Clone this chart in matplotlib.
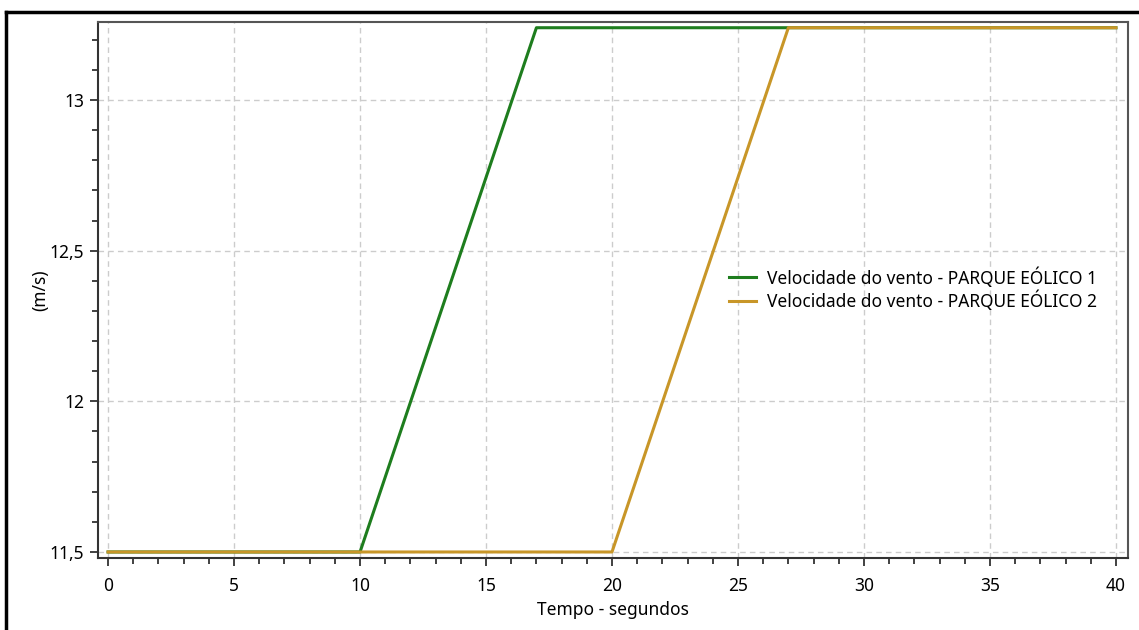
import matplotlib.pyplot as plt
from matplotlib.ticker import MultipleLocator, FuncFormatter
from matplotlib.lines import Line2D

plt.rcParams['font.family'] = ['Noto Sans', 'DejaVu Sans']

# series data (time in seconds, wind speed in m/s)
t1 = [0, 10, 17, 40]
v1 = [11.5, 11.5, 13.24, 13.24]
t2 = [0, 20, 27, 40]
v2 = [11.5, 11.5, 13.24, 13.24]
labels = ['Velocidade do vento - PARQUE EÓLICO 1',
          'Velocidade do vento - PARQUE EÓLICO 2']
xticks = [0, 5, 10, 15, 20, 25, 30, 35, 40]
yticks = [11.5, 12, 12.5, 13]

fig = plt.figure(figsize=(11.39, 6.30), dpi=100)
ax = fig.add_axes([98/1139, 72/630, 1030/1139, 536/630])

ax.plot(t1, v1, color='#1e7d1e', lw=2.2, label=labels[0], zorder=3)
ax.plot(t2, v2, color='#c89628', lw=2.2, label=labels[1], zorder=3)

ax.set_xlim(-0.4, 40.48)
ax.set_ylim(11.48, 13.259)
ax.set_xticks(xticks)
ax.set_yticks(yticks)
ax.xaxis.set_minor_locator(MultipleLocator(1))
ax.yaxis.set_minor_locator(MultipleLocator(0.1))
ax.yaxis.set_major_formatter(FuncFormatter(lambda v, p: ('%g' % v).replace('.', ',')))

ax.tick_params(which='major', direction='out', length=6, width=1.3, color='#333333',
               labelsize=12.5, pad=4)
ax.tick_params(axis='x', which='major', pad=8)
ax.tick_params(which='minor', direction='out', length=4, width=1.3, color='#333333')

ax.grid(True, which='major', ls=(0, (4, 3)), color='#cccccc', lw=1)
for s in ['left', 'bottom']:
    ax.spines[s].set_color('#333333')
    ax.spines[s].set_linewidth(1.5)
for s in ['top', 'right']:
    ax.spines[s].set_color('#555555')
    ax.spines[s].set_linewidth(1.5)

ax.set_xlabel('Tempo - segundos', fontsize=12.5, labelpad=4)
ax.set_ylabel('(m/s)', fontsize=12.5, labelpad=0)

ax.legend(loc='upper left', bbox_to_anchor=(0.597, 0.572), frameon=False,
          fontsize=12.5, handlelength=1.6, handletextpad=0.6, labelspacing=0.15)

# outer frame of the screenshot
fig.add_artist(Line2D([6/1139, 1], [1 - 12/630, 1 - 12/630], transform=fig.transFigure,
                      color='black', lw=2.5))
fig.add_artist(Line2D([6/1139, 6/1139], [0, 1 - 12/630], transform=fig.transFigure,
                      color='black', lw=2.5))

fig.savefig('out.png', dpi=100)
